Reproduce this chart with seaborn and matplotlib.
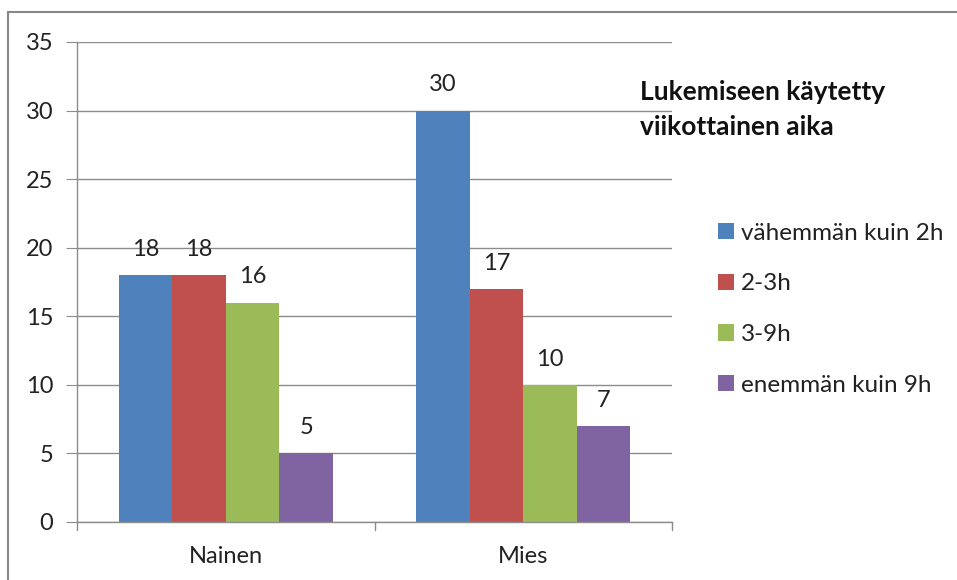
import matplotlib
matplotlib.use("Agg")
import matplotlib.pyplot as plt
import seaborn as sns
import pandas as pd
from matplotlib.patches import Rectangle, Patch

# data
groups = ["Nainen", "Mies"]
series = ["vähemmän kuin 2h", "2-3h", "3-9h", "enemmän kuin 9h"]
nainen = [18, 18, 16, 5]
mies = [30, 17, 10, 7]
colors = ["#4F81BD", "#C0504D", "#9BBB59", "#8064A2"]
legend_title = "Lukemiseen käytetty\nviikottainen aika"

rows = []
for g, vals in zip(groups, [nainen, mies]):
    for s, v in zip(series, vals):
        rows.append({"group": g, "series": s, "value": v})
df = pd.DataFrame(rows)

sns.set_style("white")
plt.rcParams["font.family"] = ["Lato", "DejaVu Sans"]

fig = plt.figure(figsize=(9.57, 5.80), dpi=100)
ax = fig.add_axes([77 / 957, 58 / 580, (672 - 77) / 957, (522 - 42) / 580])

sns.barplot(data=df, x="group", y="value", hue="series", order=groups,
            hue_order=series, palette=colors, width=0.72, gap=0,
            saturation=1, legend=False, linewidth=0, edgecolor="none", ax=ax)

# value labels
for cont in ax.containers:
    ax.bar_label(cont, padding=11, fontsize=17, color="#222222")

grid_c = "#8C8C8C"
ax.set_ylim(0, 35)
ax.set_yticks(range(0, 36, 5))
ax.set_xlim(-0.5, 1.5)
ax.yaxis.grid(True, color=grid_c, linewidth=1)
ax.set_axisbelow(True)
for side in ["top", "right"]:
    ax.spines[side].set_visible(False)
for side in ["left", "bottom"]:
    ax.spines[side].set_color(grid_c)
    ax.spines[side].set_linewidth(1)
ax.tick_params(axis="y", length=8, color=grid_c, labelsize=17, pad=9,
               left=True, labelcolor="#222222")
ax.tick_params(axis="x", length=0, labelsize=17, pad=17, labelcolor="#222222")
ax.set_xticks([0, 1], groups)
# category separator ticks on the x axis
for xb in [-0.5, 0.5, 1.5]:
    ax.plot([xb, xb], [0, -0.6], color=grid_c, linewidth=1, clip_on=False)
ax.set_xlabel("")
ax.set_ylabel("")

# legend
fig.text(640 / 957, 1 - 80 / 580, legend_title, fontsize=19, fontweight="bold",
         va="top", ha="left", color="#111111", linespacing=1.55)
handles = [Patch(facecolor=c, edgecolor="none") for c in colors]
fig.legend(handles, series, loc="upper left",
           bbox_to_anchor=(708 / 957, 1 - 213 / 580), frameon=False,
           fontsize=17.5, handlelength=0.65, handleheight=0.65, handletextpad=0.3,
           labelspacing=1.22, labelcolor="#222222", borderaxespad=0)

# chart border
fig.patches.append(Rectangle((8 / 957, -0.1), 1.2, 1 - 12 / 580 + 0.1,
                             transform=fig.transFigure, fill=False,
                             edgecolor="#888888", linewidth=1.5))

fig.savefig("out.png", dpi=100)
